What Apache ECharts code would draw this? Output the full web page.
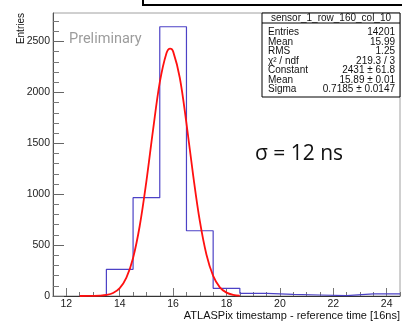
<!DOCTYPE html>
<html>
<head>
<meta charset="utf-8">
<script src="https://cdn.jsdelivr.net/npm/echarts@6/dist/echarts.min.js"></script>
<style>html,body{margin:0;padding:0;background:#fff;}#c{width:402px;height:327px;}</style>
</head>
<body>
<div id="c"></div>
<script>
// Histogram: bin lower edges and counts (bin width 1)
const binEdges = [12.5, 13.5, 14.5, 15.5, 16.5, 17.5, 18.5, 19.5, 20.5, 21.5, 22.5, 23.5];
const binCounts = [5, 262, 966, 2645, 641, 75, 26, 16, 10, 3, 20, 20];
const binWidth = 1;
// Gaussian fit curve
const fitX = [12.5, 13, 13.25, 13.5, 13.75, 14, 14.25, 14.5, 14.75, 15, 15.25, 15.5, 15.75, 15.89, 16, 16.25, 16.5, 16.75, 17, 17.25, 17.5, 17.75, 18, 18.25, 18.5];
const fitY = [0, 1, 3, 10, 29, 77, 180, 374, 690, 1129, 1635, 2098, 2385, 2431, 2403, 2144, 1695, 1188, 737, 405, 197, 85, 33, 11, 3];
// Axis ticks
const xMajor = [12, 14, 16, 18, 20, 22, 24];
const xMinor = [12.5, 13, 13.5, 14.5, 15, 15.5, 16.5, 17, 17.5, 18.5, 19, 19.5, 20.5, 21, 21.5, 22.5, 23, 23.5, 24.5];
const yMajor = [0, 500, 1000, 1500, 2000, 2500];
const yMinor = [100, 200, 300, 400, 600, 700, 800, 900, 1100, 1200, 1300, 1400, 1600, 1700, 1800, 1900, 2100, 2200, 2300, 2400, 2600, 2700];
// Stats box
const statsTitle = 'sensor_1_row_160_col_10';
const statsLabels = ['Entries', 'Mean', 'RMS', 'χ² / ndf', 'Constant', 'Mean', 'Sigma'];
const statsValues = ['14201', '15.99', '1.25', '219.3 / 3', '2431 ± 61.8', '15.89 ± 0.01', '0.7185 ± 0.0147'];

const xMin = 11.5, xMax = 24.5, yMin = 0, yMax = 2780;

const histPts = binEdges.map((e, i) => [e, binCounts[i]]);
histPts.push([binEdges[binEdges.length - 1] + binWidth, binCounts[binCounts.length - 1]]);
const fitPts = fitX.map((x, i) => [x, fitY[i]]);

const FONT = 'Liberation Sans';
const chart = echarts.init(document.getElementById('c'), null, {renderer: 'canvas'});

const gridL = 53, gridR = 2, gridT = 13, gridB = 31;
const boxL = 262, boxR = 400, boxT = 13, boxB = 97;

const graphics = [
  {type: 'rect', shape: {x: 143, y: -6, width: 270, height: 11}, style: {fill: 'none', stroke: '#000', lineWidth: 2}, z: 100},
  {type: 'text', x: 69, y: 39, style: {text: 'Preliminary', font: '14.5px Roboto', fill: '#9c9c9c', verticalAlign: 'middle'}, z: 100},
  {type: 'text', x: 255, y: 154, style: {text: 'σ = 12 ns', font: '21px "Open Sans"', fill: '#111', verticalAlign: 'middle'}, z: 100},
  {type: 'text', x: 21, y: 13, rotation: Math.PI / 2, style: {text: 'Entries', font: '10px ' + FONT, fill: '#111', align: 'right', verticalAlign: 'middle'}, z: 100},
  {type: 'text', x: 400, y: 316, style: {text: 'ATLASPix timestamp - reference time [16ns]', font: '11px ' + FONT, fill: '#111', align: 'right', verticalAlign: 'middle'}, z: 100},
  {type: 'rect', shape: {x: boxL, y: boxT, width: boxR - boxL, height: boxB - boxT}, style: {fill: '#fff', stroke: '#000', lineWidth: 1}, z: 100},
  {type: 'line', shape: {x1: boxL, y1: 23, x2: boxR, y2: 23}, style: {stroke: '#000', lineWidth: 1}, z: 101},
  {type: 'text', x: (boxL + boxR) / 2, y: 18, style: {text: statsTitle, font: '10px ' + FONT, fill: '#111', align: 'center', verticalAlign: 'middle'}, z: 101}
];
statsLabels.forEach((lab, i) => {
  const y = 32.5 + i * 9.5;
  graphics.push({type: 'text', x: 268, y: y, style: {text: lab, font: '10px ' + FONT, fill: '#111', verticalAlign: 'middle'}, z: 101});
  graphics.push({type: 'text', x: 395, y: y, style: {text: statsValues[i], font: '10px ' + FONT, fill: '#111', align: 'right', verticalAlign: 'middle'}, z: 101});
});

const option = {
  animation: false,
  backgroundColor: '#fff',
  grid: {left: gridL, right: gridR, top: gridT, bottom: gridB, show: true, borderColor: '#a0a0a0', borderWidth: 1, backgroundColor: 'transparent'},
  xAxis: [
    {type: 'value', min: xMin, max: xMax, gridIndex: 0,
      axisLine: {show: true, lineStyle: {color: '#333', width: 1}},
      axisTick: {show: true, inside: true, length: 8, customValues: xMajor, lineStyle: {color: '#777'}},
      axisLabel: {show: true, customValues: xMajor, margin: 3, fontFamily: FONT, fontSize: 10.5, color: '#222', formatter: v => String(v)},
      splitLine: {show: false}},
    {type: 'value', min: xMin, max: xMax, gridIndex: 0, position: 'bottom',
      axisLine: {show: false},
      axisTick: {show: true, inside: true, length: 4, customValues: xMinor, lineStyle: {color: '#777'}},
      axisLabel: {show: false}, splitLine: {show: false}}
  ],
  yAxis: [
    {type: 'value', min: yMin, max: yMax, gridIndex: 0,
      axisLine: {show: true, lineStyle: {color: '#555', width: 1}},
      axisTick: {show: true, inside: true, length: 11, customValues: yMajor, lineStyle: {color: '#666'}},
      axisLabel: {show: true, customValues: yMajor, margin: 3, fontFamily: FONT, fontSize: 10.5, color: '#222', formatter: v => String(v)},
      splitLine: {show: false}},
    {type: 'value', min: yMin, max: yMax, gridIndex: 0, position: 'left',
      axisLine: {show: false},
      axisTick: {show: true, inside: true, length: 6, customValues: yMinor, lineStyle: {color: '#777'}},
      axisLabel: {show: false}, splitLine: {show: false}}
  ],
  series: [
    {type: 'line', xAxisIndex: 0, yAxisIndex: 0, data: histPts, step: 'end', symbol: 'none',
      lineStyle: {color: '#4c42c6', width: 1.2}, z: 3},
    {type: 'line', xAxisIndex: 0, yAxisIndex: 0, data: fitPts, smooth: 0.35, symbol: 'none',
      lineStyle: {color: '#ff1010', width: 1.8}, z: 4}
  ],
  graphic: graphics
};
chart.setOption(option);
</script>
</body>
</html>
